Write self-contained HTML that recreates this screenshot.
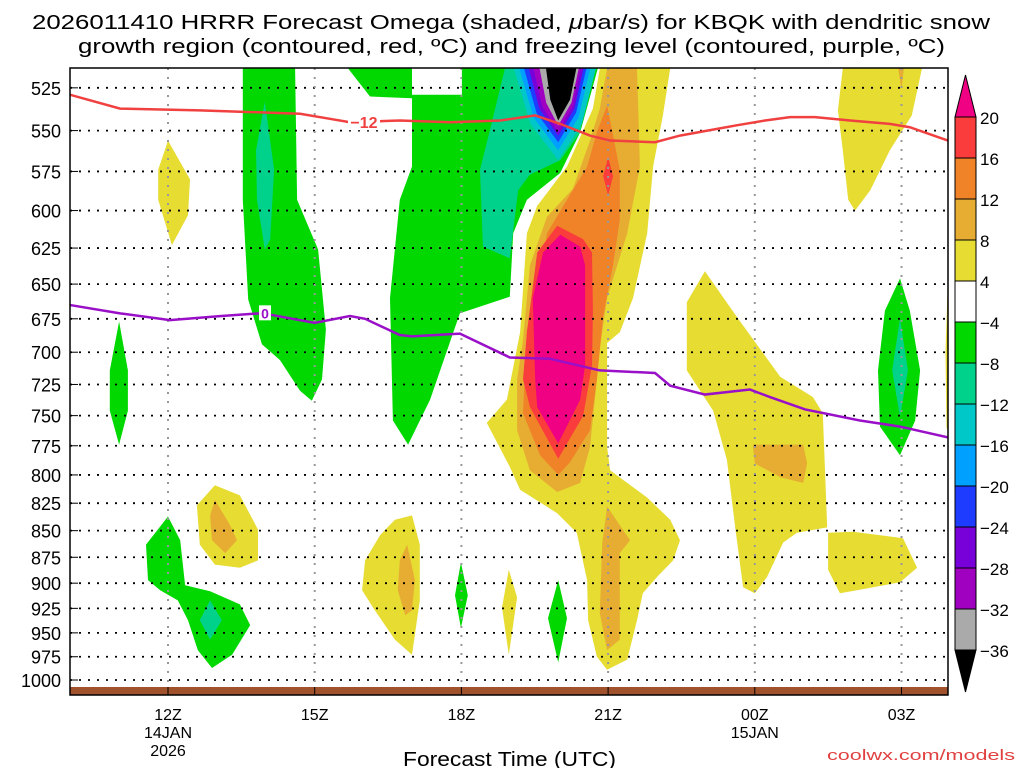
<!DOCTYPE html>
<html><head><meta charset="utf-8"><style>
html,body{margin:0;padding:0;background:#fff;}
svg{display:block;font-family:"Liberation Sans",sans-serif;}
</style></head><body>
<svg id="chart" width="1024" height="768" viewBox="0 0 1024 768">
<text x="32" y="29" textLength="958" lengthAdjust="spacingAndGlyphs" font-size="20">2026011410 HRRR Forecast Omega (shaded, <tspan font-style="italic">μ</tspan>bar/s) for KBQK with dendritic snow</text>
<text x="78" y="53" textLength="867" lengthAdjust="spacingAndGlyphs" font-size="20">growth region (contoured, red, ºC) and freezing level (contoured, purple, ºC)</text>
<defs><clipPath id="pc"><rect x="70" y="68" width="878" height="627"/></clipPath></defs>
<g id="fills" clip-path="url(#pc)"></g>
<g id="grid" clip-path="url(#pc)"></g>
<rect x="70" y="687" width="878" height="8" fill="#a0522d"/>
<g id="lines" clip-path="url(#pc)"></g>
<rect x="70" y="68" width="878" height="627" fill="none" stroke="#000" stroke-width="1.5"/>
<g id="yaxis"></g>
<g id="xaxis"></g>
<text x="403" y="766" textLength="213" lengthAdjust="spacingAndGlyphs" font-size="20">Forecast Time (UTC)</text>
<text x="827" y="760" textLength="188" lengthAdjust="spacingAndGlyphs" font-size="15" fill="#e04040">coolwx.com/models</text>
<g id="cbar"></g>
</svg>
<script>
// ---- data (t = hours after 12Z 14JAN, p = hPa) ----
const pressureTicks=[525,550,575,600,625,650,675,700,725,750,775,800,825,850,875,900,925,950,975,1000];
const timeTicks=[0,3,6,9,12,15];
const timeLabels=["12Z","15Z","18Z","21Z","00Z","03Z"];
const timeSub1=["14JAN","","","","15JAN",""];
const timeSub2=["2026","","","","",""];
const cbarLabels=["20","16","12","8","4","\u22124","\u22128","\u221212","\u221216","\u221220","\u221224","\u221228","\u221232","\u221236"];
const cbarColors=["#fa3c3c","#f08228","#e6ad32","#e6dc32","#ffffff","#00d800","#00d28c","#00c8c8","#00a0ff","#1e3cff","#7800d8","#a000c0","#aaaaaa"];
const redT=[-2,-0.98,0.65,2.7,3.31,3.72,4.74,5.77,6.79,7.51,8.02,8.63,9.04,9.96,10.47,11.6,12.21,12.72,13.23,13.95,14.76,15.17,15.95];
const redP=[529,537,538,540,543,545,544,545,544,541,546,553,556,557,553,547,544,542,542,544,546,548,556];
const purT=[-2,-0.98,0.04,1.06,1.88,2.09,3.0,3.72,4.03,4.74,4.99,5.97,6.99,7.81,8.83,9.96,10.27,10.98,11.9,12.31,13.03,14.15,14.97,15.95];
const purP=[665,671,676,673,671,672,678,673,675,687,688,686,704,705,714,716,726,733,729,735,745,754,759,768];
const leftGreen=[[1.53,514],[2.6,514],[2.64,593],[3.07,626],[3.23,683],[3.15,721],[2.94,738],[2.7,730],[2.29,706],[1.92,694],[1.64,661],[1.53,593]];
const leftTeal=[[1.98,533],[2.17,574],[2.09,619],[1.98,626],[1.82,593],[1.8,562]];
const midGreen=[[3.68,514],[4.99,514],[4.99,529],[6.01,529],[6.01,514],[8.79,514],[8.43,551],[8.02,576],[7.34,593],[7.06,615],[6.99,659],[5.97,671],[5.36,737],[4.91,774],[4.6,754],[4.54,660],[4.74,593],[4.99,572],[4.99,531],[4.13,530]];
const midTeal=[[6.89,514],[8.63,514],[8.43,551],[8.02,568],[7.4,577],[7.16,587],[6.99,632],[6.44,624],[6.38,574],[6.58,550]];
const vLeft=[7.03,7.14,7.24,7.34,7.44,7.57,7.71];
const vRight=[8.79,8.67,8.59,8.53,8.47,8.43,8.38];
const vTip=[568,562,557,553,551,547,544];
const plumeYellow=[[8.83,514],[10.27,514],[10.12,541],[9.92,572],[9.8,615],[9.51,660],[9.24,685],[8.98,693],[8.98,776],[9.04,796],[9.8,820],[10.27,840],[10.47,859],[10.33,878],[10.0,894],[9.71,910],[9.59,937],[9.39,978],[8.98,989],[8.77,975],[8.59,937],[8.57,897],[8.36,852],[7.96,834],[7.2,813],[6.99,793],[6.52,756],[6.93,737],[7.2,685],[7.34,615],[7.55,597],[8.16,572],[8.69,537]];
const plumeOrange=[[8.98,514],[9.59,514],[9.65,572],[9.39,615],[8.98,660],[8.83,697],[8.77,721],[8.63,776],[8.43,807],[7.96,815],[7.4,796],[7.14,762],[7.14,721],[7.26,691],[7.4,637],[7.75,604],[8.28,586],[8.63,556],[8.83,537]];
const plumeDarkOrange=[[8.98,535],[9.24,574],[9.24,606],[9.1,637],[8.9,673],[8.77,721],[8.63,762],[8.22,789],[7.98,800],[7.61,783],[7.26,748],[7.34,683],[7.55,660],[7.75,615],[8.16,593],[8.57,572],[8.77,551]];
const plumeRed=[[7.96,610],[8.49,619],[8.67,628],[8.69,669],[8.67,710],[8.49,750],[7.98,786],[7.4,743],[7.26,721],[7.34,685],[7.55,628]];
const redDiamond=[[9.0,566],[9.1,578],[9.0,590],[8.9,578]];
const plumeMagenta=[[8.02,616],[8.43,624],[8.53,637],[8.53,710],[8.43,737],[7.98,773],[7.55,743],[7.51,721],[7.46,660],[7.67,628]];
const lowerOrange=[[8.98,828],[9.45,859],[9.24,871],[9.24,957],[8.98,968],[8.83,930],[8.88,862]];
const rightYellow=[[10.98,641],[11.64,674],[12.52,719],[13.19,735],[13.39,748],[13.48,847],[12.86,852],[12.58,861],[12.25,894],[12.0,910],[11.76,904],[11.6,847],[11.43,787],[11.15,746],[10.61,714],[10.61,663]];
const rightOrange=[[11.96,774],[12.99,774],[13.07,790],[12.99,807],[12.52,802],[12.0,790]];
const bottomYellow=[[13.5,852],[14.01,851],[15.03,857],[15.32,885],[14.97,899],[14.09,907],[13.74,910],[13.5,887]];
const rightGreen=[[14.97,646],[15.17,669],[15.38,714],[15.28,754],[14.97,783],[14.56,759],[14.52,714],[14.66,669]];
const rightTeal=[[14.97,675],[15.13,714],[14.97,751],[14.81,714]];
const edgeYellow=[[15.95,644],[16.1,644],[16.1,779],[15.92,760],[15.9,700]];
const topRightYellow=[[13.8,514],[15.42,514],[15.21,541],[14.76,562],[14.36,587],[14.05,600],[13.91,593],[13.8,562],[13.7,538]];
const topRightOrange=[[14.93,514],[15.05,514],[15.0,526]];
const y12Yellow=[[0,556],[0.45,580],[0.41,603],[0.08,623],[-0.2,593],[-0.2,574]];
const z11Green=[[-1.0,677],[-0.82,714],[-0.82,746],[-1.0,774],[-1.19,746],[-1.19,714]];
const z13Yellow=[[0.96,809],[1.47,818],[1.84,849],[1.84,878],[1.47,885],[0.96,882],[0.65,863],[0.59,827]];
const z13Orange=[[0.96,822],[1.27,845],[1.41,859],[1.17,871],[0.9,859],[0.86,836]];
const lowGreen=[[0,837],[0.25,859],[0.35,902],[0.86,908],[1.47,921],[1.68,942],[1.31,973],[0.9,987],[0.61,968],[0.41,937],[0.2,917],[-0.16,907],[-0.41,897],[-0.45,863]];
const lowTeal=[[0.86,917],[1.1,937],[0.86,957],[0.65,937]];
const z17Yellow=[[4.64,840],[4.99,836],[5.15,863],[5.15,917],[4.99,973],[4.64,957],[4.23,927],[3.97,907],[4.03,878],[4.34,854]];
const z17Orange=[[4.89,863],[5.05,897],[4.99,927],[4.85,932],[4.7,907],[4.74,878]];
const z18Green=[[5.99,880],[6.13,912],[5.99,945],[5.87,912]];
const z19Yellow=[[6.97,887],[7.14,914],[6.97,973],[6.83,924]];
const z20Green=[[7.98,897],[8.16,935],[7.98,981],[7.77,935]];

const NS="http://www.w3.org/2000/svg";
function X(t){return 168+48.9*t;}
function Y(p){return 680-919*Math.log(1000/p);}
function mk(tag,attrs,parent){const e=document.createElementNS(NS,tag);for(const k in attrs)e.setAttribute(k,attrs[k]);parent.appendChild(e);return e;}
const C={green:"#00d800",teal:"#00d28c",cyan:"#00c8c8",lblue:"#00a0ff",blue:"#1e3cff",purple:"#7800d8",violet:"#a000c0",gray:"#aaaaaa",black:"#000000",yellow:"#e6dc32",orange:"#e6ad32",dorange:"#f08228",red:"#fa3c3c",magenta:"#f00082",white:"#ffffff"};
const fills=document.getElementById('fills');
const shapes=[
 ["left-green",leftGreen,"green"],["left-teal",leftTeal,"teal"],
 ["mid-green",midGreen,"green"],["mid-teal",midTeal,"teal"],
 ["plume-yellow",plumeYellow,"yellow"],["plume-orange",plumeOrange,"orange"],["plume-dark-orange",plumeDarkOrange,"dorange"],
 ["plume-red",plumeRed,"red"],["red-diamond",redDiamond,"red"],["plume-magenta",plumeMagenta,"magenta"],["lower-orange",lowerOrange,"orange"],
 ["right-yellow",rightYellow,"yellow"],["right-orange",rightOrange,"orange"],["bottom-yellow",bottomYellow,"yellow"],
 ["right-green",rightGreen,"green"],["right-teal",rightTeal,"teal"],["edge-yellow",edgeYellow,"yellow"],
 ["top-right-yellow",topRightYellow,"yellow"],["top-right-orange",topRightOrange,"orange"],
 ["yellow-12z",y12Yellow,"yellow"],["green-11z",z11Green,"green"],["yellow-13z",z13Yellow,"yellow"],["orange-13z",z13Orange,"orange"],
 ["low-green",lowGreen,"green"],["low-teal",lowTeal,"teal"],["yellow-17z",z17Yellow,"yellow"],["orange-17z",z17Orange,"orange"],
 ["green-18z",z18Green,"green"],["yellow-19z",z19Yellow,"yellow"],["green-20z",z20Green,"green"]
];
shapes.forEach(s=>{
 const el=mk('polygon',{points:s[1].map(q=>X(q[0]).toFixed(1)+','+Y(q[1]).toFixed(1)).join(' '),fill:C[s[2]]},fills);
 
 
 if(s[0]==="mid-teal"){
  const vc=["cyan","lblue","blue","purple","violet","gray","black"];
  vLeft.forEach((tl,i)=>{
   const tr=vRight[i],tip=vTip[i],tc=7.98,pm=Math.exp(Math.log(514)+0.6*(Math.log(tip)-Math.log(514)));
   const pts=[[tl,510],[tl+0.4*(tc-tl),pm],[tc,tip],[tr-0.4*(tr-tc),pm],[tr,510]];
   const v=mk('polygon',{points:pts.map(q=>X(q[0]).toFixed(1)+','+Y(q[1]).toFixed(1)).join(' '),fill:C[vc[i]]},fills);
   
   
  });
 }
});
// grid
const grid=document.getElementById('grid');
pressureTicks.forEach(p=>{
 const l=mk('line',{x1:70,x2:948,y1:Y(p),y2:Y(p),stroke:"#000","stroke-width":1.8,"stroke-dasharray":"2,7"},grid);
 
 
});
timeTicks.forEach(t=>{
 const l=mk('line',{x1:X(t),x2:X(t),y1:68,y2:695,stroke:"#999","stroke-width":2,"stroke-dasharray":"2,7"},grid);
 
 
});
// lines
const lines=document.getElementById('lines');
const rl=mk('polyline',{points:redT.map((t,i)=>X(t)+','+Y(redP[i])).join(' '),fill:"none",stroke:"#f04040","stroke-width":2.5},lines);


const pl=mk('polyline',{points:purT.map((t,i)=>X(t)+','+Y(purP[i])).join(' '),fill:"none",stroke:"#9a10c8","stroke-width":2.5},lines);


const rb=mk('rect',{x:348,y:Y(545)-9,width:32,height:17,fill:"#fff"},lines);


const rt=mk('text',{x:364,y:Y(545)+6,"text-anchor":"middle","font-size":16,"font-weight":"bold",fill:"#f04040"},lines);
rt.textContent="\u221212";


const pb=mk('rect',{x:259,y:Y(671)-8,width:12,height:15,fill:"#fff"},lines);


const pt=mk('text',{x:265,y:Y(671)+5,"text-anchor":"middle","font-size":14,"font-weight":"bold",fill:"#9a10c8"},lines);
pt.textContent="0";


// axes
const ya=document.getElementById('yaxis');
pressureTicks.forEach(p=>{
 const t=mk('text',{x:61,y:Y(p)+7,"text-anchor":"end","font-size":18},ya);
 t.textContent=p;
 
 
 const k=mk('line',{x1:70,x2:78,y1:Y(p),y2:Y(p),stroke:"#000"},ya);
 
 
});
const xa=document.getElementById('xaxis');
timeTicks.forEach((t,i)=>{
 const a=mk('text',{x:X(t),y:720,"text-anchor":"middle","font-size":16},xa);
 a.textContent=timeLabels[i];
 
 
 if(timeSub1[i]){const b=mk('text',{x:X(t),y:738,"text-anchor":"middle","font-size":16},xa);b.textContent=timeSub1[i];
  
  }
 if(timeSub2[i]){const c=mk('text',{x:X(t),y:756,"text-anchor":"middle","font-size":16},xa);c.textContent=timeSub2[i];
  
  }
 const k=mk('line',{x1:X(t),x2:X(t),y1:695,y2:687,stroke:"#000"},xa);
 
 
});
// colorbar
const cb=document.getElementById('cbar');
const cbTop=117,step=41,cx0=955,cw=21;
const tt=mk('polygon',{points:`${cx0},${cbTop} ${cx0+cw},${cbTop} ${cx0+cw/2},75`,fill:"#f00082",stroke:"#000"},cb);


cbarColors.forEach((c,i)=>{
 const r=mk('rect',{x:cx0,y:cbTop+i*step,width:cw,height:step,fill:c,stroke:"#000","stroke-width":1},cb);
 
 
});
const bot=cbTop+cbarColors.length*step;
const bt=mk('polygon',{points:`${cx0},${bot} ${cx0+cw},${bot} ${cx0+cw/2},692`,fill:"#000",stroke:"#000"},cb);


cbarLabels.forEach((l,i)=>{
 const t=mk('text',{x:980,y:cbTop+i*step+7,"font-size":17},cb);
 t.textContent=l;
 
 
});
</script>
</body></html>
